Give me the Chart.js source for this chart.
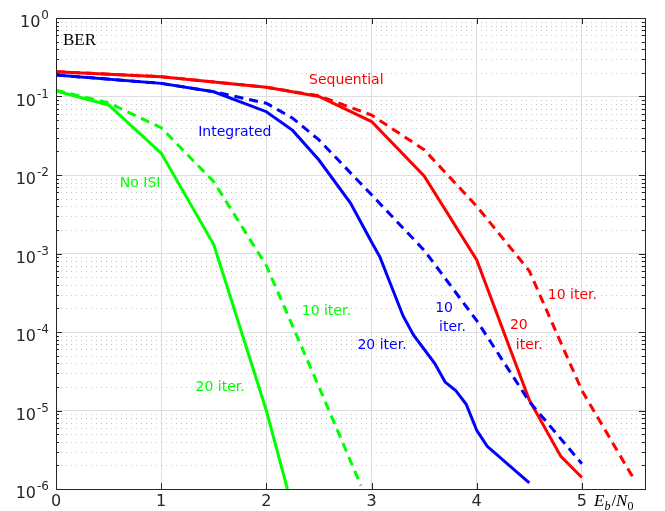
<!DOCTYPE html>
<html>
<head>
<meta charset="utf-8">
<script src="https://cdn.jsdelivr.net/npm/chart.js@4/dist/chart.umd.min.js"></script>
<style>
  body { margin: 0; background: #fff; }
  canvas { display: block; }
</style>
</head>
<body>
<canvas id="ber-chart" width="665" height="511"></canvas>
<script>
// No ISI
const noIsi20X = [0, 0.5, 1, 1.5, 2, 2.2];
const noIsi20Y = [0.118, 0.078, 0.019, 1.3e-3, 1.0e-5, 1e-6];
const noIsi10X = [0, 0.5, 1, 1.5, 2, 2.5, 2.9];
const noIsi10Y = [0.12, 0.083, 0.04, 8.2e-3, 7e-4, 2e-5, 1.1e-6];

// Integrated
const integ20X = [0, 1, 1.5, 2, 2.25, 2.5, 2.8, 3, 3.08, 3.3, 3.4, 3.6, 3.7, 3.8, 3.9, 4, 4.1, 4.5];
const integ20Y = [0.188, 0.147, 0.115, 0.064, 0.037, 0.0155, 4.4e-3, 1.4e-3, 9e-4, 1.6e-4, 9.1e-5, 4e-5, 2.3e-5, 1.8e-5, 1.2e-5, 5.6e-6, 3.5e-6, 1.2e-6];
const integ10X = [0, 1, 1.5, 2, 2.25, 2.5, 3, 3.5, 4, 4.5, 5];
const integ10Y = [0.188, 0.147, 0.115, 0.082, 0.053, 0.028, 5.6e-3, 1.1e-3, 1.4e-4, 1.3e-5, 2.1e-6];

// Sequential
const seq20X = [0, 1, 2, 2.5, 3, 3.5, 4, 4.5, 4.8, 5];
const seq20Y = [0.207, 0.179, 0.131, 0.1, 0.048, 9.7e-3, 8.3e-4, 1.36e-5, 2.6e-6, 1.4e-6];
const seq10X = [0, 1, 2, 2.5, 3, 3.5, 4, 4.5, 5, 5.5];
const seq10Y = [0.207, 0.179, 0.131, 0.102, 0.058, 0.021, 4e-3, 6e-4, 1.8e-5, 1.3e-6];

const xTickVals = [0, 1, 2, 3, 4, 5];
const yTickVals = [1e-6, 1e-5, 1e-4, 1e-3, 1e-2, 1e-1, 1];
const yTickExps = ["-6", "-5", "-4", "-3", "-2", "-1", "0"];

const GREEN = "#00ff00";
const BLUE = "#0000ff";
const RED = "#ff0000";

// curve labels: text, x, y (data units), colour
const curveLabels = [
    ["Sequential", 2.76, 0.162, RED],
    ["Integrated", 1.70, 0.0353, BLUE],
    ["No ISI", 0.80, 7.9e-3, GREEN],
    ["10 iter.", 2.57, 1.85e-4, GREEN],
    ["20 iter.", 1.56, 2.0e-5, GREEN],
    ["20 iter.", 3.10, 6.8e-5, BLUE],
    ["10", 3.69, 2.0e-4, BLUE],
    ["iter.", 3.77, 1.15e-4, BLUE],
    ["20", 4.40, 1.2e-4, RED],
    ["iter.", 4.50, 6.8e-5, RED],
    ["10 iter.", 4.91, 2.95e-4, RED]
];

const toPoints = (xs, ys) => xs.map((x, i) => ({x: x, y: ys[i]}));

const makeSet = (label, xs, ys, color, dashed) => ({
    label: label,
    data: toPoints(xs, ys),
    borderColor: color,
    backgroundColor: color,
    borderWidth: 3,
    borderDash: dashed ? [9, 6] : [],
    pointRadius: 0,
    tension: 0
});

const decorations = {
    id: "decorations",
    beforeDatasetsDraw(chart) {
        const {ctx, chartArea: a, scales: {y}} = chart;
        ctx.save();
        ctx.strokeStyle = "#c4c4c4";
        ctx.lineWidth = 1;
        ctx.setLineDash([1, 4]);
        for (let e = -6; e < 0; e++) {
            for (let m = 2; m <= 9; m++) {
                const py = Math.round(y.getPixelForValue(m * Math.pow(10, e))) + 0.5;
                ctx.beginPath();
                ctx.moveTo(a.left, py);
                ctx.lineTo(a.right, py);
                ctx.stroke();
            }
        }
        ctx.restore();
    },
    afterDatasetsDraw(chart) {
        const {ctx, chartArea: a, scales: {x, y}} = chart;
        ctx.save();
        ctx.font = "14px 'DejaVu Sans'";
        ctx.textAlign = "center";
        ctx.textBaseline = "middle";
        curveLabels.forEach(l => {
            ctx.fillStyle = l[3];
            ctx.fillText(l[0], x.getPixelForValue(l[1]), y.getPixelForValue(l[2]));
        });

        // box and ticks
        ctx.strokeStyle = "#262626";
        ctx.lineWidth = 1;
        ctx.strokeRect(a.left + 0.5, a.top + 0.5, a.right - a.left, a.bottom - a.top);
        ctx.beginPath();
        for (let e = -6; e <= 0; e++) {
            for (let m = 1; m <= 9; m++) {
                const v = m * Math.pow(10, e);
                if (v > 1) break;
                const py = Math.round(y.getPixelForValue(v)) + 0.5;
                const len = m === 1 ? 6 : 3;
                ctx.moveTo(a.left, py); ctx.lineTo(a.left + len, py);
                ctx.moveTo(a.right, py); ctx.lineTo(a.right - len, py);
            }
        }
        xTickVals.forEach(v => {
            const px = Math.round(x.getPixelForValue(v)) + 0.5;
            ctx.moveTo(px, a.bottom); ctx.lineTo(px, a.bottom - 6);
            ctx.moveTo(px, a.top); ctx.lineTo(px, a.top + 6);
        });
        ctx.stroke();

        // BER tag
        ctx.fillStyle = "#000";
        ctx.textAlign = "left";
        ctx.textBaseline = "alphabetic";
        ctx.font = "17px 'Liberation Serif'";
        ctx.fillText("BER", a.left + 7, a.top + 27);
        ctx.restore();
    },
    afterDraw(chart) {
        const {ctx, chartArea: a, scales: {y}} = chart;
        ctx.save();
        ctx.fillStyle = "#262626";
        ctx.textBaseline = "alphabetic";
        ctx.textAlign = "left";

        // y tick labels: 10 with raised exponent
        yTickVals.forEach((v, i) => {
            const py = y.getPixelForValue(v);
            ctx.font = "12px 'DejaVu Sans'";
            const expW = ctx.measureText(yTickExps[i]).width;
            ctx.font = "16px 'DejaVu Sans'";
            const baseW = ctx.measureText("10").width;
            const right = a.left - 7;
            const left = right - expW - baseW - 1;
            ctx.fillText("10", left, py + 9);
            ctx.font = "12px 'DejaVu Sans'";
            ctx.fillText(yTickExps[i], left + baseW + 1, py + 1);
        });

        // x axis title
        ctx.fillStyle = "#000";
        let px = 594;
        const base = 506;
        ctx.font = "italic 17px 'Liberation Serif'";
        ctx.fillText("E", px, base); px += ctx.measureText("E").width;
        ctx.font = "italic 12px 'Liberation Serif'";
        ctx.fillText("b", px, base + 4); px += ctx.measureText("b").width + 1;
        ctx.font = "17px 'Liberation Serif'";
        ctx.fillText("/", px, base); px += ctx.measureText("/").width;
        ctx.font = "italic 17px 'Liberation Serif'";
        ctx.fillText("N", px, base); px += ctx.measureText("N").width;
        ctx.font = "12px 'Liberation Serif'";
        ctx.fillText("0", px, base + 4);
        ctx.restore();
    }
};

const berChart = document.getElementById("ber-chart");

new Chart(berChart, {
    type: "line",
    data: {
        datasets: [
            makeSet("No ISI, 20 iter.", noIsi20X, noIsi20Y, GREEN, false),
            makeSet("No ISI, 10 iter.", noIsi10X, noIsi10Y, GREEN, true),
            makeSet("Integrated, 20 iter.", integ20X, integ20Y, BLUE, false),
            makeSet("Integrated, 10 iter.", integ10X, integ10Y, BLUE, true),
            makeSet("Sequential, 20 iter.", seq20X, seq20Y, RED, false),
            makeSet("Sequential, 10 iter.", seq10X, seq10Y, RED, true)
        ]
    },
    options: {
        responsive: false,
        animation: false,
        layout: { padding: { top: 18, right: 20, left: 0, bottom: 0 } },
        plugins: { legend: { display: false }, tooltip: { enabled: false } },
        scales: {
            x: {
                type: "linear",
                min: 0,
                max: 5.6,
                afterBuildTicks: s => { s.ticks = xTickVals.map(v => ({value: v})); },
                afterFit: s => { s.height = 22; },
                grid: { color: "#dedede", drawTicks: false },
                border: { display: false },
                ticks: {
                    color: "#262626",
                    padding: 3,
                    font: { family: "'DejaVu Sans'", size: 16 }
                }
            },
            y: {
                type: "logarithmic",
                min: 1e-6,
                max: 1,
                afterBuildTicks: s => { s.ticks = yTickVals.map(v => ({value: v})); },
                afterFit: s => { s.width = 56; },
                grid: { color: "#dedede", drawTicks: false },
                border: { display: false },
                ticks: { display: false }
            }
        }
    },
    plugins: [decorations]
});
</script>
</body>
</html>
